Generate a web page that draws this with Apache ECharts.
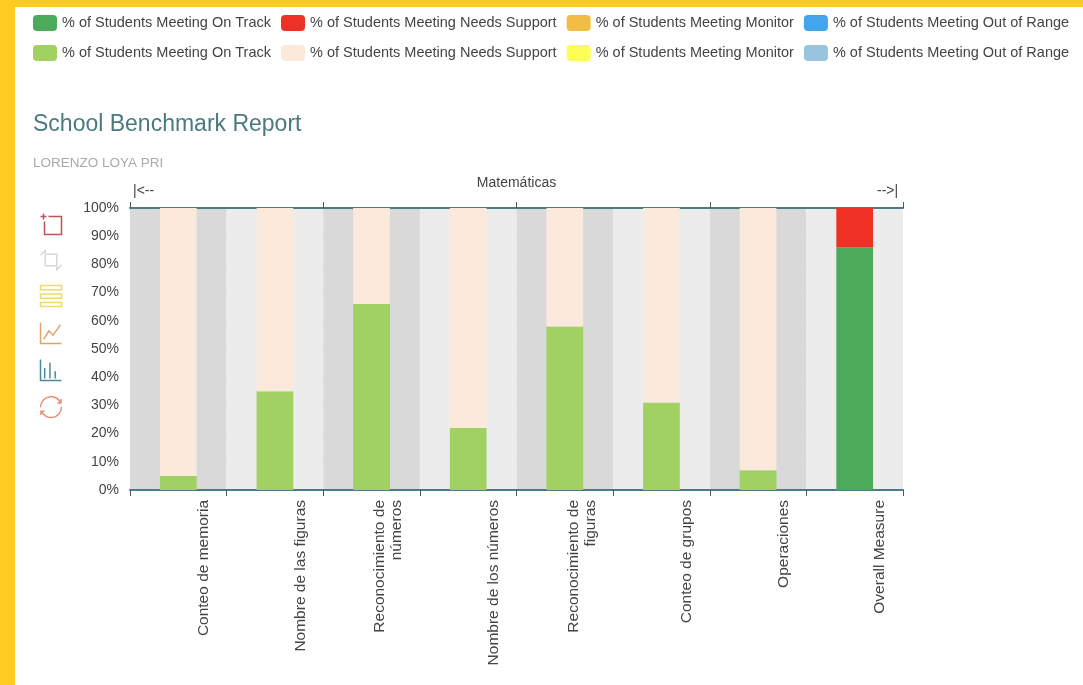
<!DOCTYPE html>
<html>
<head>
<meta charset="utf-8">
<style>html,body{margin:0;padding:0;background:#fff}#c{width:1083px;height:685px}</style>
<script src="https://cdn.jsdelivr.net/npm/echarts@6/dist/echarts.min.js"></script>
</head>
<body>
<div id="c"></div>
<script>
var categories = ['Conteo de memoria','Nombre de las figuras','Reconocimiento de\nnúmeros','Nombre de los números','Reconocimiento de\nfiguras','Conteo de grupos','Operaciones','Overall Measure'];
var yTicks = [0,10,20,30,40,50,60,70,80,90,100];
var onTrackDark   = [null,null,null,null,null,null,null,86];
var needsDark     = [null,null,null,null,null,null,null,14];
var monitorDark   = [null,null,null,null,null,null,null,null];
var rangeDark     = [null,null,null,null,null,null,null,null];
var onTrackLight  = [5,35,66,22,58,31,7,null];
var needsLight    = [95,65,34,78,42,69,93,null];
var monitorLight  = [null,null,null,null,null,null,null,null];
var rangeLight    = [null,null,null,null,null,null,null,null];
var names = ['% of Students Meeting On Track','% of Students Meeting Needs Support','% of Students Meeting Monitor','% of Students Meeting Out of Range'];
var MARK = '\u200b';
var ink = '#444', teal = '#4b7c85';

function bar(name, data, color) {
  return {name:name, type:'bar', stack:'all', data:data, barWidth:'38%', itemStyle:{color:color}};
}
function legend(top, suffix) {
  return {
    left:28, top:top, padding:[0,5], itemWidth:24, itemHeight:16, itemGap:10,
    itemStyle:{borderRadius:5}, icon:'roundRect',
    data:names.map(function(n){return n+suffix;}),
    formatter:function(n){return n.replace(MARK,'');},
    textStyle:{color:ink,fontSize:14.5,fontFamily:'Liberation Sans'},
    selectedMode:false
  };
}
function tool(path, color) {
  return {show:true, title:' ', icon:'path://'+path, iconStyle:{color:'none',borderColor:color,borderWidth:1.5}, onclick:function(){}};
}
function solid(path, color) {
  return {show:true, title:' ', icon:'path://'+path, iconStyle:{color:color,borderColor:color,borderWidth:1}, onclick:function(){}};
}
var chart = echarts.init(document.getElementById('c'));
chart.setOption({
  animation:false,
  backgroundColor:'#fdcb21',
  textStyle:{fontFamily:'Liberation Sans'},
  graphic:[
    {type:'rect',z:-10,silent:true,shape:{x:15,y:7,width:1068,height:678},style:{fill:'#fff'}},
    {type:'text',left:133,top:184,style:{text:'|<--',fill:ink,fontSize:14,fontFamily:'Liberation Sans'}},
    {type:'text',left:877,top:184,style:{text:'-->|',fill:ink,fontSize:14,fontFamily:'Liberation Sans'}}
  ],
  title:[
    {text:'School Benchmark Report',left:33,top:113,padding:0,textStyle:{color:'#4a7a80',fontSize:23,fontWeight:'normal',fontFamily:'Liberation Sans'}},
    {text:'LORENZO LOYA PRI',left:33,top:156,padding:0,textStyle:{color:'#aaa',fontSize:13.5,fontWeight:'normal',fontFamily:'Liberation Sans'}}
  ],
  legend:[legend(15,''),legend(45,MARK)],
  toolbox:{
    orient:'vertical',left:38,top:211,padding:0,itemSize:21,itemGap:11,showTitle:false,
    feature:{
      myZoom:tool('M8,3H21V21H4V8M0,3H6M3,0V6','#c0535a'),
      myBack:tool('M5,5H17V17H5Z M0,6L5,1V4 M22,16L17,21V18','#d8d8d8'),
      myStack:tool('M0,0H20V4H0Z M0,8H20V12H0Z M0,16H20V20H0Z','#f3d966'),
      myLine:tool('M0,0V20H20 M3,16L8,8L12,12L19,2','#e0a468'),
      myBar:tool('M0,0V20H20 M4,18V8 M9,18V3 M14,18V11','#4b8a9a'),
      restore:{show:true,title:' ',iconStyle:{color:'none',borderColor:'#e78e7c',borderWidth:1.5}}
    }
  },
  grid:{left:130,right:180,top:208,bottom:195,containLabel:false},
  xAxis:[
    {type:'category',data:categories,position:'bottom',
     axisLine:{lineStyle:{color:teal,width:2}},
     axisTick:{show:true,length:6,alignWithLabel:false,lineStyle:{color:'#555'}},
     splitArea:{show:true,areaStyle:{color:['#d9d9d9','#ececec']}},
     splitLine:{show:false},
     axisLabel:{interval:0,rotate:90,margin:10,color:ink,fontSize:15.5,fontFamily:'Liberation Sans',lineHeight:17,
       formatter:function(v){return v.indexOf('\n')>=0 ? '\n\n'+v : '\n\n\n'+v;}}},
    {type:'category',data:categories,position:'top',
     axisLine:{lineStyle:{color:teal,width:2}},
     axisTick:{show:true,length:6,lineStyle:{color:'#555'}},
     axisLabel:{show:false},
     name:'Matemáticas',nameLocation:'middle',nameGap:18,
     nameTextStyle:{color:ink,fontSize:14,fontFamily:'Liberation Sans'}}
  ],
  yAxis:{type:'value',min:yTicks[0],max:yTicks[yTicks.length-1],interval:yTicks[1]-yTicks[0],
    axisLine:{show:false},axisTick:{show:false},
    axisLabel:{color:ink,fontSize:14,margin:11,fontFamily:'Liberation Sans',formatter:'{value}%'},
    splitLine:{show:true,lineStyle:{color:'#c6c6c6',type:[8,8],width:1}}},
  series:[
    bar(names[0],onTrackDark,'#4bab5a'),
    bar(names[1],needsDark,'#ee3124'),
    bar(names[2],monitorDark,'#f3bd45'),
    bar(names[3],rangeDark,'#42a5ee'),
    bar(names[0]+MARK,onTrackLight,'#a0d162'),
    bar(names[1]+MARK,needsLight,'#fbe9dc'),
    bar(names[2]+MARK,monitorLight,'#fdfd55'),
    bar(names[3]+MARK,rangeLight,'#98c5dc')
  ]
});
</script>
</body>
</html>
